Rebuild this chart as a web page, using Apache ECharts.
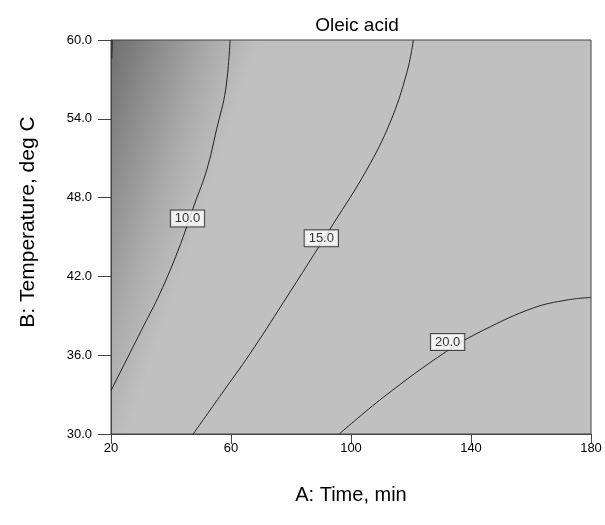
<!DOCTYPE html>
<html>
<head>
<meta charset="utf-8">
<script src="https://cdn.jsdelivr.net/npm/echarts@6/dist/echarts.min.js"></script>
<style>
  html, body { margin: 0; padding: 0; background: #fff; }
  #c1 { width: 605px; height: 525px; }
</style>
</head>
<body>
<div id="c1"></div>
<script>
// axis ticks
var timeTicks = [20, 60, 100, 140, 180];
var tempTicks = [30, 36, 42, 48, 54, 60];

// contour lines: [time, temperature]
var contour5 = [[20.4, 60], [20.3, 58.6]];
var contour10 = [[59.7, 60], [58.2, 56.2], [55.2, 53.2], [51.9, 50.1], [48, 47.6],
                 [42.4, 44.0], [36.3, 40.7], [30.8, 38.2], [20, 33.3]];
var contour15 = [[120.8, 60], [118.6, 57.5], [113, 53.7], [105.2, 50.1], [94.1, 46.0],
                 [77.4, 40.0], [66.3, 36.1], [57, 33.1], [47.4, 30]];
var contour20 = [[96.1, 30], [110.8, 32.8], [131.9, 36.3], [144.1, 37.9],
                 [160.8, 39.6], [171.9, 40.2], [180, 40.4]];

// contour labels: [time, temperature, text]
var contourLabels = [[45.5, 46.4, '10.0'], [90.1, 44.9, '15.0'], [132.2, 37.0, '20.0']];

var font = 'Liberation Sans, Arial, sans-serif';

function contourLine(name, pts) {
  return {
    name: name,
    type: 'line',
    data: pts,
    smooth: 0.4,
    showSymbol: false,
    symbol: 'none',
    clip: true,
    lineStyle: { color: '#222', width: 1 },
    silent: true,
    z: 3
  };
}

var myChart = echarts.init(document.getElementById('c1'), null, { renderer: 'canvas' });

var option = {
  animation: false,
  backgroundColor: '#fff',
  title: {
    text: 'Oleic acid',
    left: 352,
    textAlign: 'center',
    top: 11,
    textStyle: { fontFamily: font, fontWeight: 'normal', fontSize: 19, color: '#000' }
  },
  grid: {
    left: 111, right: 14, top: 40, bottom: 91,
    show: true,
    borderColor: '#444',
    borderWidth: 1,
    backgroundColor: new echarts.graphic.LinearGradient(0, 0, 0.28, 0.115, [
      { offset: 0, color: '#6e6e6e' },
      { offset: 0.35, color: '#8e8e8e' },
      { offset: 0.7, color: '#acacac' },
      { offset: 1, color: '#c0c0c0' }
    ])
  },
  xAxis: {
    type: 'value',
    min: 20, max: 180,
    name: 'A: Time, min',
    nameLocation: 'middle',
    nameGap: 51,
    nameTextStyle: { fontFamily: font, fontSize: 20, color: '#000' },
    splitLine: { show: false },
    axisLine: { show: true, lineStyle: { color: '#444', width: 1 } },
    axisTick: { show: true, length: 10, customValues: timeTicks, lineStyle: { color: '#444' } },
    axisLabel: {
      customValues: timeTicks,
      margin: 8,
      fontFamily: font, fontSize: 13, color: '#000'
    }
  },
  yAxis: {
    type: 'value',
    min: 30, max: 60,
    name: 'B: Temperature, deg C',
    nameLocation: 'middle',
    nameGap: 72,
    nameTextStyle: { fontFamily: font, fontSize: 21, color: '#000', padding: [0, 0, 0, 30] },
    splitLine: { show: false },
    axisLine: { show: true, lineStyle: { color: '#444', width: 1 } },
    axisTick: { show: true, length: 13, customValues: tempTicks, lineStyle: { color: '#444' } },
    axisLabel: {
      customValues: tempTicks,
      margin: 19,
      fontFamily: font, fontSize: 13, color: '#000',
      formatter: function (v) { return v.toFixed(1); }
    }
  },
  series: [
    contourLine('c5', contour5),
    contourLine('c10', contour10),
    contourLine('c15', contour15),
    contourLine('c20', contour20),
    {
      type: 'scatter',
      data: contourLabels,
      symbolSize: 0,
      silent: true,
      z: 5,
      label: {
        show: true,
        position: 'inside',
        formatter: function (p) { return p.value[2]; },
        fontFamily: font,
        fontSize: 13,
        color: '#000',
        backgroundColor: '#fff',
        borderColor: '#222',
        borderWidth: 1,
        padding: [2, 4, 1, 4]
      }
    }
  ]
};

myChart.setOption(option);
</script>
</body>
</html>
